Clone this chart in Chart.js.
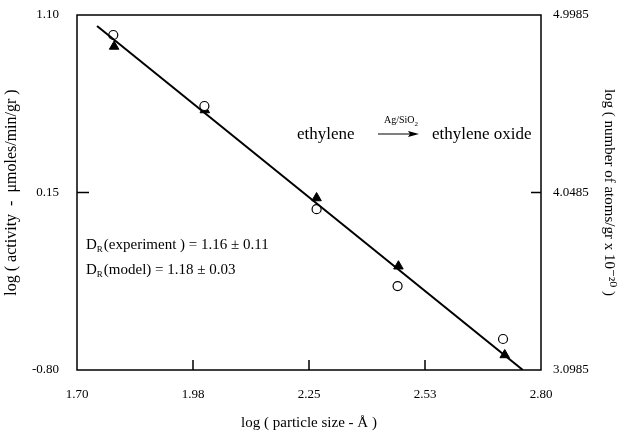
<!DOCTYPE html>
<html>
<head>
<meta charset="utf-8">
<script src="https://cdn.jsdelivr.net/npm/chart.js@4.4.1/dist/chart.umd.min.js"></script>
<style>
html,body{margin:0;padding:0;background:#fff;}
#wrap{width:620px;height:431px;position:relative;}
</style>
</head>
<body>
<div id="wrap"><canvas id="c" width="620" height="431"></canvas></div>
<script>
// ---- data ----
const xTickValues = [1.70, 1.975, 2.25, 2.525, 2.80];
const xTickLabels = ["1.70", "1.98", "2.25", "2.53", "2.80"];
const yTickValues = [-0.80, 0.15, 1.10];
const yTickLabels = ["-0.80", "0.15", "1.10"];
const y2TickValues = [3.0985, 4.0485, 4.9985];
const y2TickLabels = ["3.0985", "4.0485", "4.9985"];

const activityX = [1.786, 2.002, 2.268, 2.460, 2.710];
const activityY = [0.993, 0.613, 0.061, -0.351, -0.634];
const atomsX = [1.788, 2.003, 2.268, 2.462, 2.714];
const atomsY = [4.830, 4.490, 4.019, 3.654, 3.179];
const fitX = [1.7475, 2.757];
const fitY = [1.041, -0.80];

const FONT = "'Liberation Serif', 'DejaVu Serif', serif";

const framePlugin = {
  id: 'frame',
  afterDatasetsDraw(chart) {
    const ctx = chart.ctx;
    const a = chart.chartArea;
    const xs = chart.scales.x, ys = chart.scales.y, y2 = chart.scales.y2;
    ctx.save();
    ctx.strokeStyle = '#000';
    ctx.lineWidth = 1.5;
    ctx.strokeRect(a.left, a.top, a.right - a.left, a.bottom - a.top);
    // inward tick marks
    ctx.beginPath();
    xTickValues.slice(1, -1).forEach(v => {
      const px = xs.getPixelForValue(v);
      ctx.moveTo(px, a.bottom); ctx.lineTo(px, a.bottom - 10);
    });
    yTickValues.slice(1, -1).forEach(v => {
      const py = ys.getPixelForValue(v);
      ctx.moveTo(a.left, py); ctx.lineTo(a.left + 12, py);
    });
    y2TickValues.slice(1, -1).forEach(v => {
      const py = y2.getPixelForValue(v);
      ctx.moveTo(a.right, py); ctx.lineTo(a.right - 10, py);
    });
    ctx.stroke();

    // annotations
    ctx.fillStyle = '#000';
    ctx.textBaseline = 'alphabetic';
    ctx.font = "17px " + FONT;
    ctx.fillText("ethylene", 297, 139);
    ctx.fillText("ethylene oxide", 432, 139);
    // arrow
    ctx.lineWidth = 1;
    ctx.beginPath();
    ctx.moveTo(378, 134); ctx.lineTo(416, 134);
    ctx.stroke();
    ctx.beginPath();
    ctx.moveTo(419, 134); ctx.lineTo(408, 131); ctx.lineTo(410, 134); ctx.lineTo(408, 137); ctx.closePath();
    ctx.fill();
    ctx.font = "10px " + FONT;
    ctx.fillText("Ag/SiO", 384, 123);
    let w = ctx.measureText("Ag/SiO").width;
    ctx.font = "7px " + FONT;
    ctx.fillText("2", 384 + w, 126);

    // D_R lines
    const drawDR = (txt, x, y) => {
      ctx.font = "15px " + FONT;
      ctx.fillText("D", x, y);
      let wd = ctx.measureText("D").width;
      ctx.font = "9px " + FONT;
      ctx.fillText("R", x + wd, y + 3);
      let wr = ctx.measureText("R").width;
      ctx.font = "15px " + FONT;
      ctx.fillText(txt, x + wd + wr + 1, y);
    };
    drawDR("(experiment ) = 1.16 \u00B1 0.11", 86, 249);
    drawDR("(model) = 1.18 \u00B1 0.03", 86, 274);
    ctx.restore();
  }
};

const pts = (xs, ys) => xs.map((x, i) => ({x: x, y: ys[i]}));

new Chart(document.getElementById('c'), {
  type: 'scatter',
  data: {
    datasets: [
      {
        label: 'fit',
        data: pts(fitX, fitY),
        showLine: true,
        borderColor: '#000',
        borderWidth: 2,
        pointRadius: 0,
        yAxisID: 'y'
      },
      {
        label: 'activity',
        data: pts(activityX, activityY),
        pointStyle: 'circle',
        pointRadius: 4.5,
        pointBorderWidth: 1.2,
        pointBorderColor: '#000',
        pointBackgroundColor: '#fff',
        yAxisID: 'y'
      },
      {
        label: 'atoms',
        data: pts(atomsX, atomsY),
        pointStyle: 'triangle',
        pointRadius: 5.5,
        pointBorderWidth: 1,
        pointBorderColor: '#000',
        pointBackgroundColor: '#000',
        yAxisID: 'y2'
      }
    ]
  },
  options: {
    responsive: false,
    animation: false,
    devicePixelRatio: 1,
    layout: {padding: {top: 15, left: 0, right: 0, bottom: 0}},
    plugins: {legend: {display: false}, tooltip: {enabled: false}},
    scales: {
      x: {
        type: 'linear',
        min: 1.70, max: 2.80,
        afterBuildTicks: s => { s.ticks = xTickValues.map(v => ({value: v})); },
        afterFit: s => { s.height = 61; s.paddingLeft = 0; s.paddingRight = 0; },
        grid: {display: false, drawTicks: false},
        border: {display: false},
        ticks: {
          padding: 17,
          color: '#000',
          font: {family: FONT, size: 13},
          maxRotation: 0,
          autoSkip: false,
          callback: (v, i) => xTickLabels[i]
        },
        title: {
          display: true,
          text: 'log ( particle size - \u00C5 )',
          color: '#000',
          font: {family: FONT, size: 15, lineHeight: 1.0},
          padding: {top: 0, bottom: 0}
        }
      },
      y: {
        type: 'linear',
        position: 'left',
        min: -0.80, max: 1.10,
        afterBuildTicks: s => { s.ticks = yTickValues.map(v => ({value: v})); },
        afterFit: s => { s.width = 77; s.paddingTop = 0; s.paddingBottom = 0; },
        grid: {display: false, drawTicks: false},
        border: {display: false},
        ticks: {
          padding: 18,
          color: '#000',
          font: {family: FONT, size: 13},
          autoSkip: false,
          callback: (v, i) => yTickLabels[i]
        },
        title: {
          display: true,
          text: 'log ( activity  -  \u03BCmoles/min/gr )',
          color: '#000',
          font: {family: FONT, size: 16},
          padding: {top: 2, bottom: 2}
        }
      },
      y2: {
        type: 'linear',
        position: 'right',
        min: 3.0985, max: 4.9985,
        afterBuildTicks: s => { s.ticks = y2TickValues.map(v => ({value: v})); },
        afterFit: s => { s.width = 79; s.paddingTop = 0; s.paddingBottom = 0; },
        grid: {display: false, drawTicks: false},
        border: {display: false},
        ticks: {
          padding: 12,
          color: '#000',
          font: {family: FONT, size: 13},
          autoSkip: false,
          callback: (v, i) => y2TickLabels[i]
        },
        title: {
          display: true,
          text: 'log ( number of atoms/gr x 10\u207B\u00B2\u2070 )',
          color: '#000',
          font: {family: FONT, size: 15},
          padding: {top: 2, bottom: 2}
        }
      }
    }
  },
  plugins: [framePlugin]
});
</script>
</body>
</html>
